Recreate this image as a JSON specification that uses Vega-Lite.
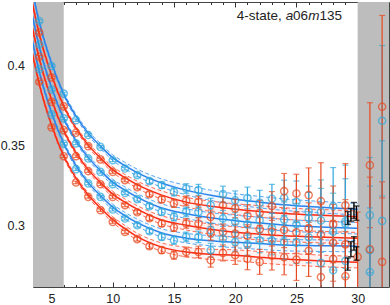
{
"$schema":"https://vega.github.io/schema/vega-lite/v6.json",
"width":356,"height":285,
"autosize":{"type":"none"},
"padding":{"left":33,"top":2,"right":1,"bottom":18},
"background":"white",
"config":{"view":{"stroke":"#444","strokeWidth":1},
 "axis":{"grid":false,"title":null,"domain":false,"labelFont":"Liberation Sans","labelFontSize":12.5,"labelColor":"#222","tickColor":"#333","tickWidth":1,"zindex":1}},
"datasets":{
"shade":[{"x1":3.0,"x2":6.0},{"x1":30.0,"x2":33.0}],
"fitl":[
{"s":"B1","c":"b","x":3.4,"f":0.4475,"w":0.0012},{"s":"B1","c":"b","x":4,"f":0.4269,"w":0.0012},{"s":"B1","c":"b","x":5,"f":0.4013,"w":0.0012},{"s":"B1","c":"b","x":6,"f":0.3819,"w":0.0012},{"s":"B1","c":"b","x":7,"f":0.3681,"w":0.0013},{"s":"B1","c":"b","x":8,"f":0.3575,"w":0.0014},{"s":"B1","c":"b","x":9,"f":0.3494,"w":0.0016},{"s":"B1","c":"b","x":10,"f":0.3422,"w":0.0018},{"s":"B1","c":"b","x":11,"f":0.3372,"w":0.002},{"s":"B1","c":"b","x":12,"f":0.3328,"w":0.0022},{"s":"B1","c":"b","x":14,"f":0.3263,"w":0.0026},{"s":"B1","c":"b","x":16,"f":0.3219,"w":0.003},{"s":"B1","c":"b","x":18,"f":0.3187,"w":0.0032},{"s":"B1","c":"b","x":20,"f":0.3162,"w":0.0034},{"s":"B1","c":"b","x":22,"f":0.3144,"w":0.0036},{"s":"B1","c":"b","x":24,"f":0.3128,"w":0.0036},{"s":"B1","c":"b","x":26,"f":0.3117,"w":0.0036},{"s":"B1","c":"b","x":28,"f":0.3108,"w":0.0036},{"s":"B1","c":"b","x":30,"f":0.3100,"w":0.0036},
{"s":"R1","c":"r","x":3.4,"f":0.4400,"w":0.0012},{"s":"R1","c":"r","x":4,"f":0.4194,"w":0.0012},{"s":"R1","c":"r","x":5,"f":0.3938,"w":0.0012},{"s":"R1","c":"r","x":6,"f":0.3744,"w":0.0012},{"s":"R1","c":"r","x":7,"f":0.3606,"w":0.0013},{"s":"R1","c":"r","x":8,"f":0.3500,"w":0.0014},{"s":"R1","c":"r","x":9,"f":0.3419,"w":0.0016},{"s":"R1","c":"r","x":10,"f":0.3347,"w":0.0018},{"s":"R1","c":"r","x":11,"f":0.3297,"w":0.002},{"s":"R1","c":"r","x":12,"f":0.3253,"w":0.0022},{"s":"R1","c":"r","x":14,"f":0.3188,"w":0.0026},{"s":"R1","c":"r","x":16,"f":0.3144,"w":0.003},{"s":"R1","c":"r","x":18,"f":0.3118,"w":0.0032},{"s":"R1","c":"r","x":20,"f":0.3100,"w":0.0034},{"s":"R1","c":"r","x":22,"f":0.3086,"w":0.0036},{"s":"R1","c":"r","x":24,"f":0.3073,"w":0.0036},{"s":"R1","c":"r","x":26,"f":0.3065,"w":0.0036},{"s":"R1","c":"r","x":28,"f":0.3059,"w":0.0036},{"s":"R1","c":"r","x":30,"f":0.3053,"w":0.0036},
{"s":"B2","c":"b","x":3.4,"f":0.4322,"w":0.0012},{"s":"B2","c":"b","x":4,"f":0.4116,"w":0.0012},{"s":"B2","c":"b","x":5,"f":0.3860,"w":0.0012},{"s":"B2","c":"b","x":6,"f":0.3666,"w":0.0012},{"s":"B2","c":"b","x":7,"f":0.3528,"w":0.0013},{"s":"B2","c":"b","x":8,"f":0.3422,"w":0.0014},{"s":"B2","c":"b","x":9,"f":0.3341,"w":0.0016},{"s":"B2","c":"b","x":10,"f":0.3269,"w":0.0018},{"s":"B2","c":"b","x":11,"f":0.3219,"w":0.002},{"s":"B2","c":"b","x":12,"f":0.3175,"w":0.0022},{"s":"B2","c":"b","x":14,"f":0.3107,"w":0.0026},{"s":"B2","c":"b","x":16,"f":0.3072,"w":0.003},{"s":"B2","c":"b","x":18,"f":0.3046,"w":0.0032},{"s":"B2","c":"b","x":20,"f":0.3028,"w":0.0034},{"s":"B2","c":"b","x":22,"f":0.3013,"w":0.0036},{"s":"B2","c":"b","x":24,"f":0.3000,"w":0.0036},{"s":"B2","c":"b","x":26,"f":0.2992,"w":0.0036},{"s":"B2","c":"b","x":28,"f":0.2986,"w":0.0036},{"s":"B2","c":"b","x":30,"f":0.2981,"w":0.0036},
{"s":"R2","c":"r","x":3.4,"f":0.4247,"w":0.0012},{"s":"R2","c":"r","x":4,"f":0.4041,"w":0.0012},{"s":"R2","c":"r","x":5,"f":0.3785,"w":0.0012},{"s":"R2","c":"r","x":6,"f":0.3591,"w":0.0012},{"s":"R2","c":"r","x":7,"f":0.3453,"w":0.0013},{"s":"R2","c":"r","x":8,"f":0.3347,"w":0.0014},{"s":"R2","c":"r","x":9,"f":0.3266,"w":0.0016},{"s":"R2","c":"r","x":10,"f":0.3194,"w":0.0018},{"s":"R2","c":"r","x":11,"f":0.3144,"w":0.002},{"s":"R2","c":"r","x":12,"f":0.3100,"w":0.0022},{"s":"R2","c":"r","x":14,"f":0.3032,"w":0.0026},{"s":"R2","c":"r","x":16,"f":0.3000,"w":0.003},{"s":"R2","c":"r","x":18,"f":0.2975,"w":0.0032},{"s":"R2","c":"r","x":20,"f":0.2956,"w":0.0034},{"s":"R2","c":"r","x":22,"f":0.2944,"w":0.0036},{"s":"R2","c":"r","x":24,"f":0.2934,"w":0.0036},{"s":"R2","c":"r","x":26,"f":0.2928,"w":0.0036},{"s":"R2","c":"r","x":28,"f":0.2923,"w":0.0036},{"s":"R2","c":"r","x":30,"f":0.2919,"w":0.0036},
{"s":"B3","c":"b","x":3.4,"f":0.4166,"w":0.0012},{"s":"B3","c":"b","x":4,"f":0.3960,"w":0.0012},{"s":"B3","c":"b","x":5,"f":0.3704,"w":0.0012},{"s":"B3","c":"b","x":6,"f":0.3510,"w":0.0012},{"s":"B3","c":"b","x":7,"f":0.3372,"w":0.0013},{"s":"B3","c":"b","x":8,"f":0.3266,"w":0.0014},{"s":"B3","c":"b","x":9,"f":0.3185,"w":0.0016},{"s":"B3","c":"b","x":10,"f":0.3113,"w":0.0018},{"s":"B3","c":"b","x":11,"f":0.3060,"w":0.002},{"s":"B3","c":"b","x":12,"f":0.3016,"w":0.0022},{"s":"B3","c":"b","x":14,"f":0.2951,"w":0.0026},{"s":"B3","c":"b","x":16,"f":0.2919,"w":0.003},{"s":"B3","c":"b","x":18,"f":0.2903,"w":0.0032},{"s":"B3","c":"b","x":20,"f":0.2893,"w":0.0034},{"s":"B3","c":"b","x":22,"f":0.2885,"w":0.0036},{"s":"B3","c":"b","x":24,"f":0.2876,"w":0.0036},{"s":"B3","c":"b","x":26,"f":0.2873,"w":0.0036},{"s":"B3","c":"b","x":28,"f":0.2871,"w":0.0036},{"s":"B3","c":"b","x":30,"f":0.2869,"w":0.0036},
{"s":"R3","c":"r","x":3.4,"f":0.4088,"w":0.0012},{"s":"R3","c":"r","x":4,"f":0.3882,"w":0.0012},{"s":"R3","c":"r","x":5,"f":0.3626,"w":0.0012},{"s":"R3","c":"r","x":6,"f":0.3432,"w":0.0012},{"s":"R3","c":"r","x":7,"f":0.3294,"w":0.0013},{"s":"R3","c":"r","x":8,"f":0.3188,"w":0.0014},{"s":"R3","c":"r","x":9,"f":0.3107,"w":0.0016},{"s":"R3","c":"r","x":10,"f":0.3035,"w":0.0018},{"s":"R3","c":"r","x":11,"f":0.2978,"w":0.002},{"s":"R3","c":"r","x":12,"f":0.2928,"w":0.0022},{"s":"R3","c":"r","x":14,"f":0.2863,"w":0.0026},{"s":"R3","c":"r","x":16,"f":0.2832,"w":0.003},{"s":"R3","c":"r","x":18,"f":0.2818,"w":0.0032},{"s":"R3","c":"r","x":20,"f":0.2812,"w":0.0034},{"s":"R3","c":"r","x":22,"f":0.2800,"w":0.0036},{"s":"R3","c":"r","x":24,"f":0.2789,"w":0.0036},{"s":"R3","c":"r","x":26,"f":0.2781,"w":0.0036},{"s":"R3","c":"r","x":28,"f":0.2774,"w":0.0036},{"s":"R3","c":"r","x":30,"f":0.2769,"w":0.0036}
],
"pts":[
{"s":"B1","c":"b","x":4,"y":0.4275,"e":0.0008},{"s":"B1","c":"b","x":5,"y":0.3994,"e":0.0008},{"s":"B1","c":"b","x":6,"y":0.3822,"e":0.0008},{"s":"B1","c":"b","x":7,"y":0.3656,"e":0.0008},{"s":"B1","c":"b","x":8,"y":0.3563,"e":0.0008},{"s":"B1","c":"b","x":9,"y":0.3489,"e":0.0008},{"s":"B1","c":"b","x":10,"y":0.3406,"e":0.0009},{"s":"B1","c":"b","x":11,"y":0.3354,"e":0.001},{"s":"B1","c":"b","x":12,"y":0.3313,"e":0.0012},{"s":"B1","c":"b","x":13,"y":0.3275,"e":0.0015},{"s":"B1","c":"b","x":14,"y":0.3250,"e":0.002},{"s":"B1","c":"b","x":15,"y":0.3208,"e":0.0025},{"s":"B1","c":"b","x":16,"y":0.3229,"e":0.003},{"s":"B1","c":"b","x":17,"y":0.3219,"e":0.0036},{"s":"B1","c":"b","x":18,"y":0.3125,"e":0.0043},{"s":"B1","c":"b","x":19,"y":0.3194,"e":0.005},{"s":"B1","c":"b","x":20,"y":0.3156,"e":0.0058},{"s":"B1","c":"b","x":21,"y":0.3170,"e":0.0068},{"s":"B1","c":"b","x":22,"y":0.3140,"e":0.0078},{"s":"B1","c":"b","x":23,"y":0.3165,"e":0.009},{"s":"B1","c":"b","x":24,"y":0.3171,"e":0.011},{"s":"B1","c":"b","x":25,"y":0.3146,"e":0.013},{"s":"B1","c":"b","x":26,"y":0.3085,"e":0.016},{"s":"B1","c":"b","x":27,"y":0.3083,"e":0.02},{"s":"B1","c":"b","x":28,"y":0.3120,"e":0.024},{"s":"B1","c":"b","x":29,"y":0.3025,"e":0.035},{"s":"B1","c":"b","x":31,"y":0.3063,"e":0.036},{"s":"B1","c":"b","x":32,"y":0.3652,"e":0.047},
{"s":"R1","c":"r","x":4,"y":0.4204,"e":0.0008},{"s":"R1","c":"r","x":5,"y":0.3923,"e":0.0008},{"s":"R1","c":"r","x":6,"y":0.3742,"e":0.0008},{"s":"R1","c":"r","x":7,"y":0.3577,"e":0.0008},{"s":"R1","c":"r","x":8,"y":0.3494,"e":0.0008},{"s":"R1","c":"r","x":9,"y":0.3411,"e":0.0008},{"s":"R1","c":"r","x":10,"y":0.3333,"e":0.0009},{"s":"R1","c":"r","x":11,"y":0.3281,"e":0.001},{"s":"R1","c":"r","x":12,"y":0.3238,"e":0.0012},{"s":"R1","c":"r","x":13,"y":0.3194,"e":0.0015},{"s":"R1","c":"r","x":14,"y":0.3161,"e":0.002},{"s":"R1","c":"r","x":15,"y":0.3136,"e":0.0025},{"s":"R1","c":"r","x":16,"y":0.3152,"e":0.003},{"s":"R1","c":"r","x":17,"y":0.3146,"e":0.0036},{"s":"R1","c":"r","x":18,"y":0.3052,"e":0.0043},{"s":"R1","c":"r","x":19,"y":0.3125,"e":0.005},{"s":"R1","c":"r","x":20,"y":0.3105,"e":0.0058},{"s":"R1","c":"r","x":21,"y":0.3060,"e":0.0068},{"s":"R1","c":"r","x":22,"y":0.3077,"e":0.0078},{"s":"R1","c":"r","x":23,"y":0.3120,"e":0.009},{"s":"R1","c":"r","x":24,"y":0.3213,"e":0.011},{"s":"R1","c":"r","x":25,"y":0.3198,"e":0.012},{"s":"R1","c":"r","x":26,"y":0.3188,"e":0.017},{"s":"R1","c":"r","x":27,"y":0.3150,"e":0.024},{"s":"R1","c":"r","x":28,"y":0.3005,"e":0.024},{"s":"R1","c":"r","x":29,"y":0.3125,"e":0.026},{"s":"R1","c":"r","x":31,"y":0.3375,"e":0.039},{"s":"R1","c":"r","x":32,"y":0.3740,"e":0.057},
{"s":"B2","c":"b","x":4,"y":0.4129,"e":0.0008},{"s":"B2","c":"b","x":5,"y":0.3848,"e":0.0008},{"s":"B2","c":"b","x":6,"y":0.3667,"e":0.0008},{"s":"B2","c":"b","x":7,"y":0.3511,"e":0.0008},{"s":"B2","c":"b","x":8,"y":0.3417,"e":0.0008},{"s":"B2","c":"b","x":9,"y":0.3333,"e":0.0008},{"s":"B2","c":"b","x":10,"y":0.3256,"e":0.0009},{"s":"B2","c":"b","x":11,"y":0.3202,"e":0.001},{"s":"B2","c":"b","x":12,"y":0.3163,"e":0.0012},{"s":"B2","c":"b","x":13,"y":0.3119,"e":0.0015},{"s":"B2","c":"b","x":14,"y":0.3083,"e":0.002},{"s":"B2","c":"b","x":15,"y":0.3052,"e":0.0025},{"s":"B2","c":"b","x":16,"y":0.3083,"e":0.003},{"s":"B2","c":"b","x":17,"y":0.3083,"e":0.0036},{"s":"B2","c":"b","x":18,"y":0.2969,"e":0.0043},{"s":"B2","c":"b","x":19,"y":0.3042,"e":0.005},{"s":"B2","c":"b","x":20,"y":0.3021,"e":0.0058},{"s":"B2","c":"b","x":21,"y":0.3005,"e":0.0068},{"s":"B2","c":"b","x":22,"y":0.3030,"e":0.0078},{"s":"B2","c":"b","x":23,"y":0.2985,"e":0.009},{"s":"B2","c":"b","x":24,"y":0.3035,"e":0.011},{"s":"B2","c":"b","x":25,"y":0.3006,"e":0.013},{"s":"B2","c":"b","x":26,"y":0.3045,"e":0.016},{"s":"B2","c":"b","x":27,"y":0.3030,"e":0.02},{"s":"B2","c":"b","x":28,"y":0.2960,"e":0.024},{"s":"B2","c":"b","x":29,"y":0.3010,"e":0.028},{"s":"B2","c":"b","x":31,"y":0.2844,"e":0.04},{"s":"B2","c":"b","x":32,"y":0.3027,"e":0.05},
{"s":"R2","c":"r","x":4,"y":0.4052,"e":0.0008},{"s":"R2","c":"r","x":5,"y":0.3771,"e":0.0008},{"s":"R2","c":"r","x":6,"y":0.3594,"e":0.0008},{"s":"R2","c":"r","x":7,"y":0.3431,"e":0.0008},{"s":"R2","c":"r","x":8,"y":0.3338,"e":0.0008},{"s":"R2","c":"r","x":9,"y":0.3256,"e":0.0008},{"s":"R2","c":"r","x":10,"y":0.3177,"e":0.0009},{"s":"R2","c":"r","x":11,"y":0.3125,"e":0.001},{"s":"R2","c":"r","x":12,"y":0.3081,"e":0.0012},{"s":"R2","c":"r","x":13,"y":0.3044,"e":0.0015},{"s":"R2","c":"r","x":14,"y":0.3011,"e":0.002},{"s":"R2","c":"r","x":15,"y":0.2986,"e":0.0025},{"s":"R2","c":"r","x":16,"y":0.3011,"e":0.003},{"s":"R2","c":"r","x":17,"y":0.3011,"e":0.0036},{"s":"R2","c":"r","x":18,"y":0.2950,"e":0.0043},{"s":"R2","c":"r","x":19,"y":0.2958,"e":0.005},{"s":"R2","c":"r","x":20,"y":0.2948,"e":0.0058},{"s":"R2","c":"r","x":21,"y":0.2935,"e":0.0068},{"s":"R2","c":"r","x":22,"y":0.2975,"e":0.0078},{"s":"R2","c":"r","x":23,"y":0.2960,"e":0.009},{"s":"R2","c":"r","x":24,"y":0.2970,"e":0.011},{"s":"R2","c":"r","x":25,"y":0.2955,"e":0.013},{"s":"R2","c":"r","x":26,"y":0.2980,"e":0.016},{"s":"R2","c":"r","x":27,"y":0.2940,"e":0.02},{"s":"R2","c":"r","x":28,"y":0.2890,"e":0.024},{"s":"R2","c":"r","x":29,"y":0.2880,"e":0.028},{"s":"R2","c":"r","x":31,"y":0.2850,"e":0.045},
{"s":"B3","c":"b","x":4,"y":0.3975,"e":0.0008},{"s":"B3","c":"b","x":5,"y":0.3692,"e":0.0008},{"s":"B3","c":"b","x":6,"y":0.3509,"e":0.0008},{"s":"B3","c":"b","x":7,"y":0.3350,"e":0.0008},{"s":"B3","c":"b","x":8,"y":0.3261,"e":0.0008},{"s":"B3","c":"b","x":9,"y":0.3177,"e":0.0008},{"s":"B3","c":"b","x":10,"y":0.3098,"e":0.0009},{"s":"B3","c":"b","x":11,"y":0.3042,"e":0.001},{"s":"B3","c":"b","x":12,"y":0.3000,"e":0.0012},{"s":"B3","c":"b","x":13,"y":0.2963,"e":0.0015},{"s":"B3","c":"b","x":14,"y":0.2927,"e":0.002},{"s":"B3","c":"b","x":15,"y":0.2906,"e":0.0025},{"s":"B3","c":"b","x":16,"y":0.2927,"e":0.003},{"s":"B3","c":"b","x":17,"y":0.2927,"e":0.0036},{"s":"B3","c":"b","x":18,"y":0.2844,"e":0.0043},{"s":"B3","c":"b","x":19,"y":0.2917,"e":0.005},{"s":"B3","c":"b","x":20,"y":0.2896,"e":0.0058},{"s":"B3","c":"b","x":21,"y":0.2880,"e":0.0068},{"s":"B3","c":"b","x":22,"y":0.2906,"e":0.0078},{"s":"B3","c":"b","x":23,"y":0.2905,"e":0.009},{"s":"B3","c":"b","x":24,"y":0.2895,"e":0.011},{"s":"B3","c":"b","x":25,"y":0.2890,"e":0.013},{"s":"B3","c":"b","x":26,"y":0.2925,"e":0.016},{"s":"B3","c":"b","x":27,"y":0.2765,"e":0.02},{"s":"B3","c":"b","x":28,"y":0.2719,"e":0.024},{"s":"B3","c":"b","x":29,"y":0.2777,"e":0.028},{"s":"B3","c":"b","x":31,"y":0.2708,"e":0.04},
{"s":"R3","c":"r","x":4,"y":0.3896,"e":0.0008},{"s":"R3","c":"r","x":5,"y":0.3611,"e":0.0008},{"s":"R3","c":"r","x":6,"y":0.3431,"e":0.0008},{"s":"R3","c":"r","x":7,"y":0.3267,"e":0.0008},{"s":"R3","c":"r","x":8,"y":0.3177,"e":0.0008},{"s":"R3","c":"r","x":9,"y":0.3094,"e":0.0008},{"s":"R3","c":"r","x":10,"y":0.3021,"e":0.0009},{"s":"R3","c":"r","x":11,"y":0.2958,"e":0.001},{"s":"R3","c":"r","x":12,"y":0.2913,"e":0.0012},{"s":"R3","c":"r","x":13,"y":0.2869,"e":0.0015},{"s":"R3","c":"r","x":14,"y":0.2844,"e":0.002},{"s":"R3","c":"r","x":15,"y":0.2813,"e":0.0025},{"s":"R3","c":"r","x":16,"y":0.2833,"e":0.003},{"s":"R3","c":"r","x":17,"y":0.2833,"e":0.0036},{"s":"R3","c":"r","x":18,"y":0.2781,"e":0.0043},{"s":"R3","c":"r","x":19,"y":0.2827,"e":0.005},{"s":"R3","c":"r","x":20,"y":0.2813,"e":0.0058},{"s":"R3","c":"r","x":21,"y":0.2790,"e":0.0068},{"s":"R3","c":"r","x":22,"y":0.2771,"e":0.0078},{"s":"R3","c":"r","x":23,"y":0.2810,"e":0.009},{"s":"R3","c":"r","x":24,"y":0.2800,"e":0.011},{"s":"R3","c":"r","x":25,"y":0.2785,"e":0.013},{"s":"R3","c":"r","x":26,"y":0.2840,"e":0.016},{"s":"R3","c":"r","x":27,"y":0.2676,"e":0.02},{"s":"R3","c":"r","x":28,"y":0.2790,"e":0.024},{"s":"R3","c":"r","x":29,"y":0.2681,"e":0.028},{"s":"R3","c":"r","x":30,"y":0.2802,"e":0.028},{"s":"R3","c":"r","x":32,"y":0.2771,"e":0.05}
],
"plat":[
{"x":29.2,"y":0.3045,"e":0.0040},{"x":29.45,"y":0.3065,"e":0.0040},{"x":29.7,"y":0.3092,"e":0.0050},{"x":29.9,"y":0.3075,"e":0.0045},
{"x":29.2,"y":0.2757,"e":0.0038},{"x":29.45,"y":0.2850,"e":0.0047},{"x":29.7,"y":0.2886,"e":0.0042},{"x":29.9,"y":0.2823,"e":0.0042}
],
"lab":[
{"t":"4-state, ","x":20.13,"y":0.4306,"it":0},{"t":"a","x":24.12,"y":0.4306,"it":1},{"t":"06","x":24.73,"y":0.4306,"it":0},{"t":"m","x":25.96,"y":0.4306,"it":1},{"t":"135","x":26.88,"y":0.4306,"it":0}
]
},
"layer":[
{"data":{"name":"shade"},
 "mark":{"type":"rect","color":"#bdbdbd","clip":true},
 "encoding":{
  "x":{"field":"x1","type":"quantitative","scale":{"domain":[3.49,32.56],"nice":false,"zero":false},
       "axis":{"orient":"bottom","values":[5,10,15,20,25,30],"tickSize":-5,"labelPadding":10}},
  "x2":{"field":"x2"}}},
{"data":{"name":"fitl"},
 "mark":{"type":"errorband","interpolate":"monotone","clip":true,"borders":{"strokeDash":[4,2.5],"strokeWidth":1},"band":{"opacity":0.08}},
 "encoding":{
  "x":{"field":"x","type":"quantitative","scale":{"domain":[3.49,32.56],"nice":false,"zero":false},"axis":null},
  "y":{"field":"f","type":"quantitative","scale":{"domain":[0.2614,0.4394],"nice":false,"zero":false},"axis":null},
  "yError":{"field":"w"},
  "detail":{"field":"s"},
  "color":{"field":"c","type":"nominal","scale":{"domain":["r","b"],"range":["#ff6a55","#5aa6f2"]},"legend":null}}},
{"data":{"name":"fitl"},
 "mark":{"type":"line","interpolate":"monotone","strokeWidth":1.5,"clip":true},
 "encoding":{
  "x":{"field":"x","type":"quantitative","scale":{"domain":[3.49,32.56],"nice":false,"zero":false},
       "axis":{"orient":"bottom","values":[4,6,7,8,9,11,12,13,14,16,17,18,19,21,22,23,24,26,27,28,29,31,32],"labels":false,"tickSize":-2.5}},
  "y":{"field":"f","type":"quantitative","scale":{"domain":[0.2614,0.4394],"nice":false,"zero":false},
       "axis":{"orient":"left","values":[0.3,0.35,0.4],"format":".2~f","tickSize":-5,"labelPadding":13.5}},
  "detail":{"field":"s"},
  "color":{"field":"c","type":"nominal","scale":{"domain":["r","b"],"range":["#ff2a14","#2a82ec"]},"legend":null}}},
{"data":{"name":"pts"},
 "mark":{"type":"errorbar","ticks":{"size":6},"thickness":1.2,"clip":true},
 "encoding":{
  "x":{"field":"x","type":"quantitative","scale":{"domain":[3.49,32.56],"nice":false,"zero":false},"axis":null},
  "y":{"field":"y","type":"quantitative","scale":{"domain":[0.2614,0.4394],"nice":false,"zero":false},"axis":null},
  "yError":{"field":"e"},
  "detail":{"field":"s"},
  "color":{"field":"c","type":"nominal","scale":{"domain":["r","b"],"range":["#e8481e","#2ea8dc"]},"legend":null}}},
{"data":{"name":"pts"},
 "mark":{"type":"point","filled":false,"size":52,"strokeWidth":1.4,"clip":true},
 "encoding":{
  "x":{"field":"x","type":"quantitative","scale":{"domain":[3.49,32.56],"nice":false,"zero":false},
       "axis":{"orient":"top","values":[5,10,15,20,25,30],"labels":false,"tickSize":-5}},
  "y":{"field":"y","type":"quantitative","scale":{"domain":[0.2614,0.4394],"nice":false,"zero":false},
       "axis":{"orient":"left","values":[0.27,0.28,0.29,0.31,0.32,0.33,0.34,0.36,0.37,0.38,0.39,0.41,0.42,0.43],"labels":false,"tickSize":-2.5}},
  "color":{"field":"c","type":"nominal","scale":{"domain":["r","b"],"range":["#e8481e","#2ea8dc"]},"legend":null}}},
{"data":{"name":"plat"},
 "mark":{"type":"errorbar","ticks":{"size":6},"thickness":1.4,"color":"#000","clip":true},
 "encoding":{
  "x":{"field":"x","type":"quantitative","scale":{"domain":[3.49,32.56],"nice":false,"zero":false},"axis":null},
  "y":{"field":"y","type":"quantitative","scale":{"domain":[0.2614,0.4394],"nice":false,"zero":false},"axis":null},
  "yError":{"field":"e"}}},
{"data":{"name":"lab"},
 "transform":[{"filter":"datum.it == 0"}],
 "mark":{"type":"text","align":"left","baseline":"middle","font":"Liberation Sans","fontSize":13.5,"color":"#222"},
 "encoding":{
  "x":{"field":"x","type":"quantitative","scale":{"domain":[3.49,32.56],"nice":false,"zero":false},
       "axis":{"orient":"top","values":[4,6,7,8,9,11,12,13,14,16,17,18,19,21,22,23,24,26,27,28,29,31,32],"labels":false,"tickSize":-2.5}},
  "y":{"field":"y","type":"quantitative","scale":{"domain":[0.2614,0.4394],"nice":false,"zero":false},
       "axis":{"orient":"right","values":[0.3,0.35,0.4],"labels":false,"tickSize":-5}},
  "text":{"field":"t"}}},
{"data":{"name":"lab"},
 "transform":[{"filter":"datum.it == 1"}],
 "mark":{"type":"text","align":"left","baseline":"middle","font":"Liberation Sans","fontSize":13.5,"fontStyle":"italic","color":"#222"},
 "encoding":{
  "x":{"field":"x","type":"quantitative","scale":{"domain":[3.49,32.56],"nice":false,"zero":false},"axis":null},
  "y":{"field":"y","type":"quantitative","scale":{"domain":[0.2614,0.4394],"nice":false,"zero":false},
       "axis":{"orient":"right","values":[0.27,0.28,0.29,0.31,0.32,0.33,0.34,0.36,0.37,0.38,0.39,0.41,0.42,0.43],"labels":false,"tickSize":-2.5}},
  "text":{"field":"t"}}}
],
"resolve":{"scale":{"color":"independent"},"axis":{"x":"independent","y":"independent"}}
}
